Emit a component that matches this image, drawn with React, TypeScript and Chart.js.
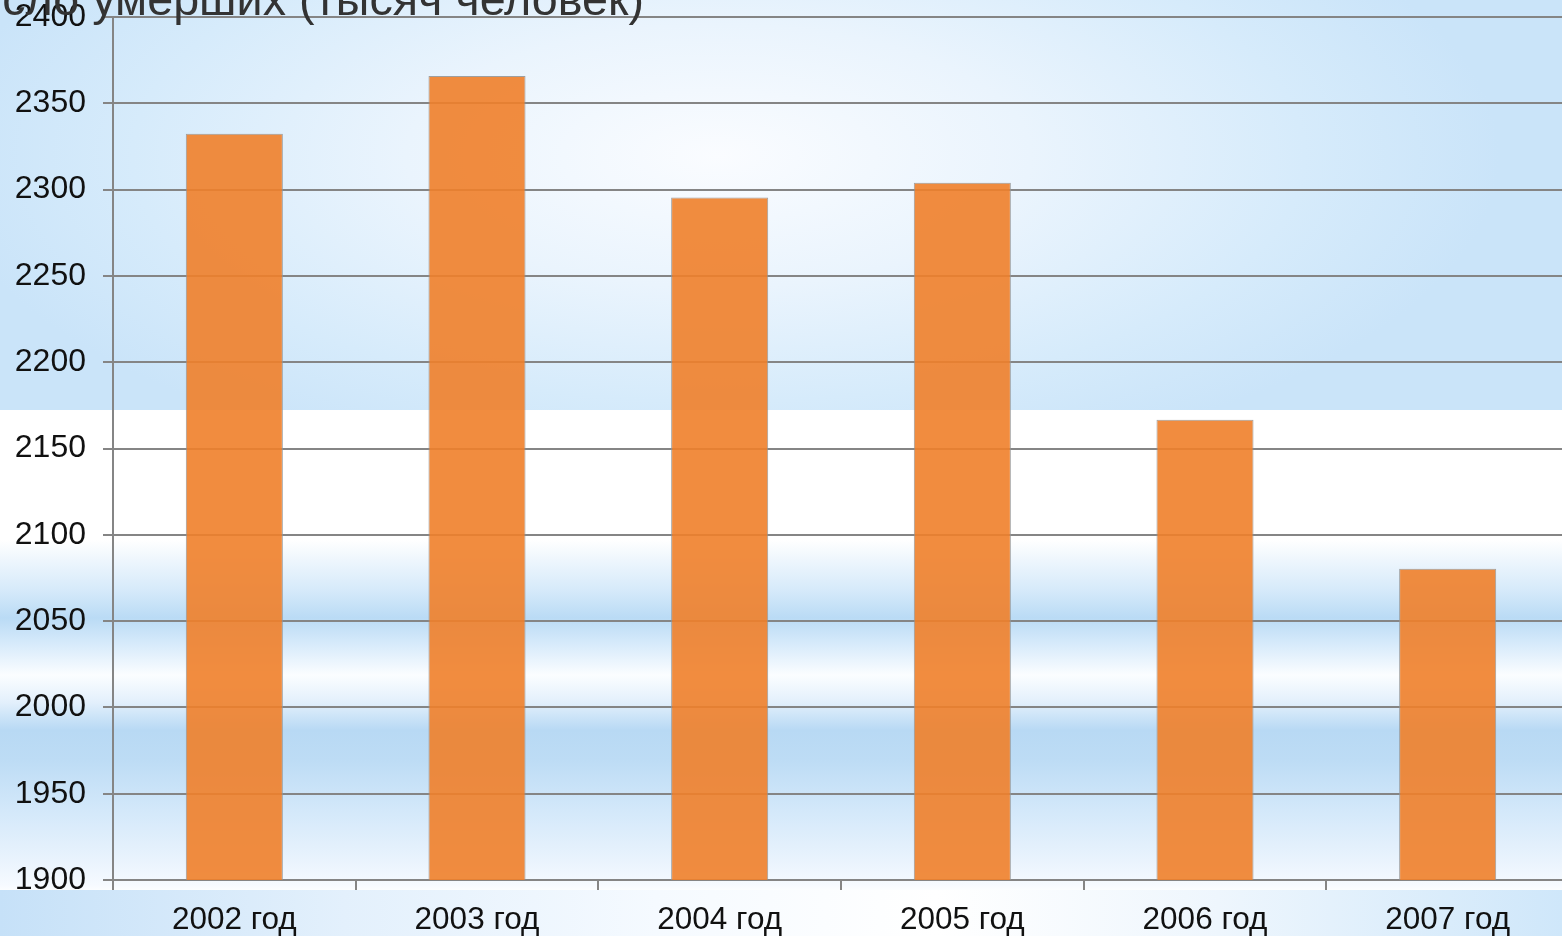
import React, { useEffect, useRef } from "react";
import { Chart, registerables } from "chart.js";

Chart.register(...registerables);

const titleText = "Число умерших (тысяч человек)";
const categories = ["2002 год", "2003 год", "2004 год", "2005 год", "2006 год", "2007 год"];
const deaths = [2332.3, 2365.8, 2295.4, 2303.9, 2166.7, 2080.4];
const yMin = 1900;
const yMax = 2400;
const yStep = 50;

const FONT = "'Liberation Sans', Arial, sans-serif";

export default function App() {
  const ref = useRef<HTMLCanvasElement | null>(null);

  useEffect(() => {
    const canvas = ref.current;
    if (!canvas) return;
    const chart = new Chart(canvas, {
      type: "bar",
      data: {
        labels: categories,
        datasets: [
          {
            data: deaths,
            backgroundColor: "rgba(240,128,42,0.9)",
            borderColor: "rgba(150,150,150,0.9)",
            borderWidth: 1,
            barPercentage: 0.4,
            categoryPercentage: 1,
          },
        ],
      },
      options: {
        animation: false,
        responsive: false,
        devicePixelRatio: 1,
        layout: { padding: { top: 17, left: 0, right: 3, bottom: 0 } },
        plugins: {
          legend: { display: false },
          title: { display: false },
          tooltip: { enabled: false },
        },
        scales: {
          x: {
            offset: true,
            grid: {
              offset: true,
              drawOnChartArea: false,
              drawTicks: true,
              tickLength: 10,
              color: "#858585",
              lineWidth: 2,
            },
            border: { display: true, color: "#858585", width: 2 },
            ticks: {
              color: "#111",
              font: { family: FONT, size: 31.5 },
              padding: 11,
              maxRotation: 0,
            },
            afterFit: (axis: any) => {
              axis.height = 56;
              axis.paddingLeft = 0;
              axis.paddingRight = 0;
            },
          },
          y: {
            min: yMin,
            max: yMax,
            grid: {
              drawOnChartArea: true,
              drawTicks: true,
              tickLength: 10,
              color: "#858585",
              lineWidth: 2,
            },
            border: { display: true, color: "#858585", width: 2 },
            ticks: {
              stepSize: yStep,
              color: "#111",
              font: { family: FONT, size: 32 },
              padding: 17,
              callback: (v: any) => String(v),
            },
            afterFit: (axis: any) => {
              axis.width = 113;
              axis.paddingTop = 0;
              axis.paddingBottom = 0;
            },
          },
        },
      },
    });
    return () => chart.destroy();
  }, []);

  return (
    <div
      style={{
        position: "fixed",
        left: 0,
        top: 0,
        width: 1562,
        height: 936,
        overflow: "hidden",
        background: "#fff",
      }}
    >
      <div
        style={{
          position: "absolute",
          left: 0,
          top: 0,
          width: 1562,
          height: 410,
          background:
            "radial-gradient(ellipse 50% 80% at 46% 38%, #fafcff 0%, #eaf4fd 40%, #d6ebfb 75%, #cae4f9 100%)",
        }}
      />
      <div
        style={{
          position: "absolute",
          left: 0,
          top: 410,
          width: 1562,
          height: 480,
          background:
            "linear-gradient(to bottom, #ffffff 0px, #ffffff 130px, #eef6fd 150px, #d6eafa 180px, #badbf5 208px, #d8ebfb 235px, #fbfdff 265px, #e3f0fc 292px, #b8d9f4 320px, #bddcf5 350px, #d3e8fa 400px, #e9f3fd 450px, #f6faff 475px, #fbfdff 480px)",
        }}
      />
      <div
        style={{
          position: "absolute",
          left: 0,
          top: 890,
          width: 1562,
          height: 46,
          background:
            "linear-gradient(to right, #c6e1f8 0%, #e3f0fc 22%, #f5faff 42%, #ffffff 60%, #eef6fd 78%, #cfe7fa 100%)",
        }}
      />
      <canvas
        ref={ref}
        width={1572}
        height={936}
        style={{ position: "absolute", left: 0, top: 0, width: 1572, height: 936, display: "block" }}
      />
      <div
        style={{
          position: "absolute",
          left: -55,
          top: -24,
          fontFamily: FONT,
          fontSize: 46.7,
          lineHeight: "46px",
          color: "#333",
          whiteSpace: "nowrap",
          pointerEvents: "none",
        }}
      >
        {titleText}
      </div>
    </div>
  );
}
